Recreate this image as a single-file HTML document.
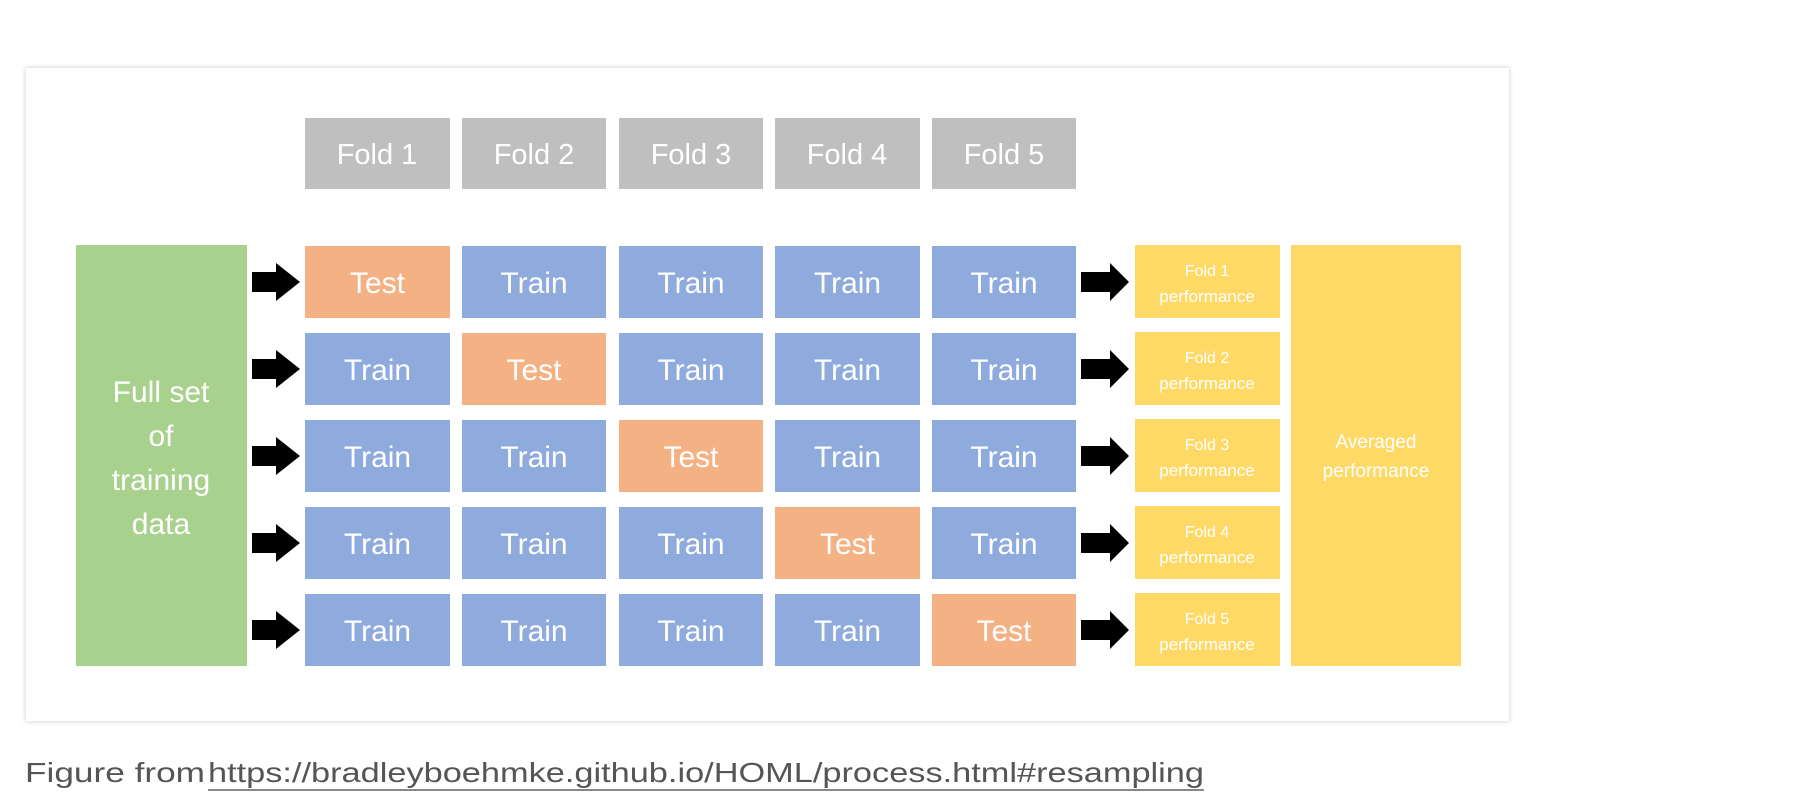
<!DOCTYPE html>
<html><head><meta charset="utf-8"><style>
html,body{margin:0;padding:0;background:#fff;}
svg{display:block;}
text{font-family:"Liberation Sans",sans-serif;fill:#fff;text-anchor:middle;}
</style></head><body>
<svg width="1810" height="812" viewBox="0 0 1810 812" xmlns="http://www.w3.org/2000/svg">
<defs><filter id="sh" x="-5%" y="-5%" width="110%" height="110%"><feGaussianBlur stdDeviation="2"/></filter></defs>
<rect x="25" y="67" width="1485" height="655" fill="#ddd" filter="url(#sh)"/>
<rect x="26" y="68" width="1483" height="653" fill="#fff"/>
<g font-size="29">
<rect x="305" y="118" width="145" height="71" fill="#bfbfbf"/><text x="377" y="164">Fold 1</text>
<rect x="462" y="118" width="144" height="71" fill="#bfbfbf"/><text x="534" y="164">Fold 2</text>
<rect x="619" y="118" width="144" height="71" fill="#bfbfbf"/><text x="691" y="164">Fold 3</text>
<rect x="775" y="118" width="145" height="71" fill="#bfbfbf"/><text x="847" y="164">Fold 4</text>
<rect x="932" y="118" width="144" height="71" fill="#bfbfbf"/><text x="1004" y="164">Fold 5</text>
</g>
<rect x="76" y="245" width="171" height="421" fill="#a9d18e"/>
<g font-size="30"><text x="161" y="402">Full set</text><text x="161" y="446">of</text><text x="161" y="490">training</text><text x="161" y="534">data</text></g>
<rect x="1291" y="245" width="170" height="421" fill="#ffd966"/>
<g font-size="19"><text x="1376" y="448">Averaged</text><text x="1376" y="477">performance</text></g>
<g id="cells" font-size="30"></g>
<script>
var g=document.getElementById('cells'),ns='http://www.w3.org/2000/svg';
var xs=[305,462,619,775,932],ws=[145,144,144,145,144],ys=[246,333,420,507,594];
function el(t,a,txt){var e=document.createElementNS(ns,t);for(var k in a)e.setAttribute(k,a[k]);if(txt)e.textContent=txt;g.appendChild(e);}
for(var r=0;r<5;r++){var y=ys[r];
 for(var c=0;c<5;c++){var t=r==c;el('rect',{x:xs[c],y:y,width:ws[c],height:72,fill:t?'#f4b183':'#8faadc'});
  el('text',{x:xs[c]+ws[c]/2,y:y+47},t?'Test':'Train');}
 var m=y+36;
 el('polygon',{points:'252,'+(m-10)+' 276,'+(m-10)+' 276,'+(m-19)+' 300,'+m+' 276,'+(m+19)+' 276,'+(m+10)+' 252,'+(m+10),fill:'#000'});
 el('polygon',{points:'1081,'+(m-10)+' 1110,'+(m-10)+' 1110,'+(m-19)+' 1129,'+m+' 1110,'+(m+19)+' 1110,'+(m+10)+' 1081,'+(m+10),fill:'#000'});
 el('rect',{x:1135,y:y-1,width:145,height:73,fill:'#ffd966'});
 el('text',{x:1207,y:y+30,'font-size':16},'Fold '+(r+1));
 el('text',{x:1207,y:y+56,'font-size':17},'performance');
}
</script>
<text x="25" y="782" font-size="28" style="fill:#555;text-anchor:start" textLength="180" lengthAdjust="spacingAndGlyphs">Figure from</text>
<text x="208" y="782" font-size="28" style="fill:#555;text-anchor:start" textLength="996" lengthAdjust="spacingAndGlyphs">https://bradleyboehmke.github.io/HOML/process.html#resampling</text>
<rect x="208" y="789" width="996" height="2" fill="#888"/>
</svg>
</body></html>
